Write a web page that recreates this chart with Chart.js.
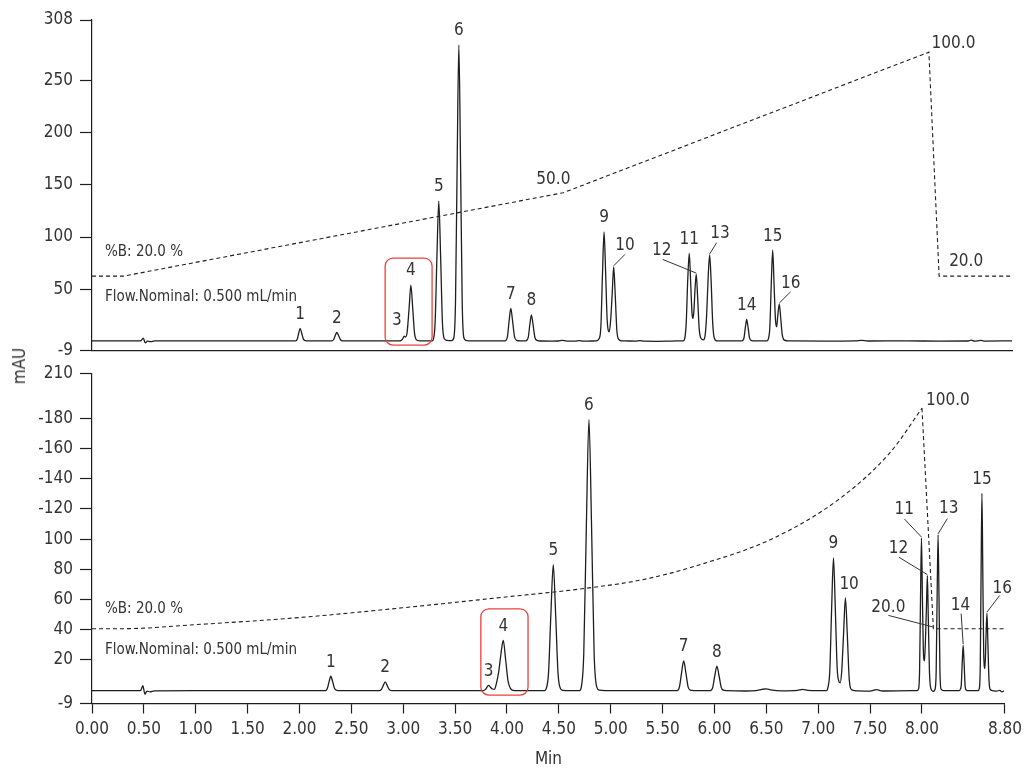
<!DOCTYPE html>
<html>
<head>
<meta charset="utf-8">
<script src="https://cdn.jsdelivr.net/npm/chart.js@4.4.1/dist/chart.umd.min.js"></script>
<style>
  body { margin: 0; background: #fff; }
  #wrap { position: relative; width: 1028px; height: 768px; overflow: hidden; }
  #wrap canvas { position: absolute; left: 0; }
  #mau {
    position: absolute; left: 19px; top: 366px;
    transform: translate(-50%, -50%) rotate(-90deg);
    font: 17px 'Liberation Sans Narrow', 'DejaVu Sans Condensed', 'Liberation Sans', sans-serif;
    color: #333; white-space: nowrap;
  }
</style>
</head>
<body>
<div id="wrap">
  <canvas id="top" width="1028" height="368" style="top:0"></canvas>
  <canvas id="bottom" width="1028" height="412" style="top:356px"></canvas>
  <div id="mau">mAU</div>
</div>
<script>
// ---- data ----
const peakNumbers = ['1','2','3','4','5','6','7','8','9','10','11','12','13','14','15','16'];

const topPeakTimes   = [1.991, 2.342, 2.986, 3.050, 3.317, 3.509, 4.006, 4.203, 4.898, 4.990, 5.713, 5.780, 5.908, 6.262, 6.511, 6.574];
const topPeakHeights = [12.5, 8.6, 5, 54, 134.5, 284, 31.6, 25.5, 105, 71.5, 84.4, 64.5, 82.8, 21, 87.5, 35.8];
const botPeakTimes   = [2.302, 2.826, 3.824, 3.964, 4.446, 4.790, 5.703, 6.023, 7.147, 7.262, 7.995, 8.052, 8.155, 8.397, 8.578, 8.626];
const botPeakHeights = [9.1, 5.4, 3, 32.9, 83, 179.2, 19.2, 15.7, 87.5, 61, 100.7, 75.8, 102.8, 29.6, 130.4, 50.9];

// trace points [min, mAU]
const topTrace = [
  [0,0.5],[0.44,0.5],[0.47,0.8],[0.49,3.2],[0.51,-1.5],[0.53,0.2],[0.56,-0.3],[0.6,0.5],[1.2,0.5],
  [1.949,0.6],[1.963,2.1],[1.977,7.8],[1.991,12.5],[2.006,7.8],[2.022,2.2],[2.04,0.7],[2.07,0.5],
  [2.294,0.5],[2.31,1.6],[2.326,5.5],[2.342,8.6],[2.359,5.4],[2.377,1.6],[2.397,0.6],[2.43,0.5],
  [2.95,0.5],[2.972,2.5],[2.986,5],[2.998,4.2],[3.014,8.5],[3.034,33],[3.05,54],[3.067,33],[3.085,8],[3.104,1.5],[3.13,0.6],
  [3.255,0.6],[3.265,2],[3.282,18],[3.2995,82],[3.317,134.5],[3.3345,82],[3.352,18],[3.37,2.5],[3.395,1],[3.44,0.8],
  [3.461,3.5],[3.477,38],[3.493,172],[3.509,284],[3.525,172],[3.541,38],[3.557,3.5],[3.578,1],[3.62,0.5],
  [3.95,0.5],[3.974,4.8],[3.99,19.8],[4.006,31.6],[4.023,19.5],[4.041,4.8],[4.062,1],[4.1,0.5],
  [4.15,0.5],[4.173,4],[4.188,16],[4.203,25.5],[4.219,16],[4.236,4],[4.256,1],[4.29,0.4],
  [4.4,0.3],[4.46,0.4],[4.5,1],[4.54,0.3],[4.62,0.3],[4.66,0.8],[4.7,0.3],[4.78,0.4],
  [4.82,0.5],[4.853,3],[4.868,15],[4.883,65],[4.898,105],[4.913,66],[4.928,20],[4.948,9.2],[4.962,22],[4.976,46],
  [4.99,71.5],[5.005,44],[5.02,11],[5.038,2],[5.065,0.6],[5.1,0.5],
  [5.2,0.3],[5.24,0.8],[5.28,0.2],[5.4,0.1],[5.5,0.2],[5.6,0.5],
  [5.655,0.5],[5.67,3],[5.684,18],[5.698,58],[5.713,84.4],[5.727,55],[5.74,26],[5.748,22],[5.758,30],[5.768,50],
  [5.78,64.5],[5.793,42],[5.808,12],[5.825,3],[5.848,1.5],[5.865,6],[5.879,25],[5.894,62],[5.908,82.8],[5.922,58],
  [5.937,18],[5.953,3],[5.975,0.6],[6.0,0.5],
  [6.215,0.5],[6.236,3.2],[6.249,13],[6.262,21],[6.276,13],[6.29,3.2],[6.31,0.8],[6.34,0.5],
  [6.455,0.5],[6.471,3],[6.484,14],[6.497,54],[6.511,87.5],[6.524,55],[6.538,20],[6.549,14],[6.56,25],[6.574,35.8],
  [6.588,22],[6.603,6],[6.622,1.2],[6.65,0.6],[6.7,0.5],
  [7.0,0.3],[7.3,0.5],[7.36,0.9],[7.42,0.4],[7.8,0.5],[8.1,0.3],[8.38,0.4],[8.41,1.3],[8.44,0.2],[8.5,1.0],[8.53,0.3],[8.8,0.5]
];

const botTrace = [
  [0,-0.5],[0.44,-0.5],[0.47,-0.3],[0.49,2.8],[0.51,-2.8],[0.53,-0.8],[0.56,-1.3],[0.6,-0.6],[1.0,-0.5],
  [2.25,-0.5],[2.268,0.9],[2.285,5.3],[2.302,9.1],[2.32,5.3],[2.338,1],[2.36,-0.3],[2.4,-0.5],
  [2.77,-0.5],[2.79,0.4],[2.808,3],[2.826,5.4],[2.845,3],[2.864,0.4],[2.885,-0.4],[2.93,-0.5],
  [3.77,-0.5],[3.795,0.5],[3.81,2.2],[3.824,3],[3.84,1.8],[3.86,0.6],[3.88,0.4],[3.897,4],[3.92,12],[3.942,24],
  [3.964,32.9],[3.987,20],[4.01,6],[4.033,1],[4.06,-0.3],[4.1,-0.5],
  [4.36,-0.5],[4.377,0.7],[4.4,11],[4.423,50],[4.446,83],[4.469,50],[4.492,11],[4.515,1],[4.54,-0.3],[4.6,-0.5],
  [4.70,-0.5],[4.715,1.5],[4.74,24],[4.765,109],[4.79,179.2],[4.815,109],[4.84,24],[4.865,2],[4.89,-0.2],[4.95,-0.5],
  [5.64,-0.5],[5.663,2.2],[5.683,11.5],[5.703,19.2],[5.724,11.5],[5.745,2.2],[5.766,-0.2],[5.8,-0.5],
  [5.96,-0.5],[5.983,1.7],[6.003,9.4],[6.023,15.7],[6.044,9.4],[6.065,1.7],[6.086,-0.2],[6.12,-0.5],
  [6.3,-0.7],[6.4,-0.4],[6.46,0.4],[6.5,0.7],[6.54,0.1],[6.65,-0.6],[6.8,-0.3],[6.85,0.4],[6.9,-0.3],[7.0,-0.5],
  [7.08,-0.5],[7.093,1.5],[7.111,12],[7.129,53.5],[7.147,87.5],[7.165,53],[7.183,14],[7.2,5.5],[7.211,4.7],[7.226,12],
  [7.244,37],[7.262,61],[7.28,37],[7.298,8],[7.316,0.5],[7.35,-0.5],
  [7.5,-0.8],[7.56,0.2],[7.62,-0.7],[7.9,-0.5],
  [7.955,-0.5],[7.968,0.8],[7.977,13],[7.986,61],[7.995,100.7],[8.004,62],[8.013,27],[8.024,19.2],[8.033,32],[8.043,55],
  [8.052,75.8],[8.061,47],[8.072,12],[8.085,1],[8.11,-1],[8.128,1],[8.137,13],[8.146,62],[8.155,102.8],[8.164,62],
  [8.173,13],[8.184,0.5],[8.21,-0.5],
  [8.36,-0.5],[8.37,0.5],[8.379,3.5],[8.388,18],[8.397,29.6],[8.406,18],[8.415,3.5],[8.425,0],[8.45,-0.5],
  [8.54,-0.5],[8.553,1],[8.562,17],[8.57,80],[8.578,130.4],[8.586,80],[8.595,24],[8.607,14.2],[8.617,35],[8.626,50.9],
  [8.635,32],[8.645,8],[8.656,0.5],[8.68,-0.5],
  [8.72,-0.8],[8.75,-0.3],[8.77,-1.3],[8.79,-0.6]
];

// %B gradient, drawn on the mAU scale
const topGradient = [[0,62.6],[0.302,62.6],[4.509,142.5],[8.005,277.2],[8.103,62.6],[8.8,62.6]];
const botGradientCurve = [[0,40.6],[0.30,40.6],[1.0,43.3],[2.0,48],[3.0,54.5],[3.9,61],[4.76,67.4],[5.3,73],[5.81,82],[6.58,101],[7.22,127.5],[7.70,158],[8.0,186.8]];
const botGradientDrop = [[8.0,186.8],[8.11,40.6],[8.8,40.6]];

const xTicks  = [0,0.5,1,1.5,2,2.5,3,3.5,4,4.5,5,5.5,6,6.5,7,7.5,8,8.8];
const xLabels = ['0.00','0.50','1.00','1.50','2.00','2.50','3.00','3.50','4.00','4.50','5.00','5.50','6.00','6.50','7.00','7.50','8.00','8.80'];
const topYTicks  = [-9,50,100,150,200,250,308];
const topYLabels = ['-9','50','100','150','200','250','308'];
const botYTicks  = [-9,20,40,60,80,100,120,140,160,180,210];
const botYLabels = ['-9','20','40','60','80','100','-120','-140','-160','-180','210'];

// ---- drawing ----
const INK = '#333';
const LINE = '#1e1e1e';
const FAMILY = "'Liberation Sans Narrow', 'DejaVu Sans Condensed', 'Liberation Sans', sans-serif";
const FONT = '17px ' + FAMILY;
const INFO_FONT = '15px ' + FAMILY;
Chart.defaults.font.family = FAMILY;
Chart.defaults.font.size = 17;
Chart.defaults.color = INK;

const pts = arr => arr.map(p => ({ x: p[0], y: p[1] }));

function xAxis(show) {
  return {
    type: 'linear', min: 0, max: 8.8,
    afterBuildTicks: s => { s.ticks = xTicks.map(v => ({ value: v })); },
    afterFit: s => { s.height = show ? 64.5 : 0; },
    grid: { drawOnChartArea: false, drawTicks: show, tickLength: 10, tickColor: LINE, tickWidth: 1.2 },
    border: { color: LINE, width: 1.2 },
    ticks: { display: show, autoSkip: false, maxRotation: 0, padding: 6, callback: (v, i) => xLabels[i] },
    title: { display: show, text: 'Min', padding: 0, font: { size: 17, lineHeight: 1 } }
  };
}

// note: chart.js adds half a label + ticks.padding above/below the y axis,
// so the canvases overlap a little to keep the plot areas where they belong
function yAxis(min, max, ticks, labels) {
  return {
    type: 'linear', min: min, max: max,
    afterBuildTicks: s => { s.ticks = ticks.map(v => ({ value: v })); },
    afterFit: s => { s.width = 92; },
    grid: { drawOnChartArea: false, tickLength: 12, tickColor: LINE, tickWidth: 1.2 },
    border: { color: LINE, width: 1.2 },
    ticks: { padding: 7, autoSkip: false, callback: (v, i) => labels[i] }
  };
}

function notes(cfg) {
  return {
    id: 'notes',
    afterDatasetsDraw(chart) {
      const { ctx, chartArea } = chart;
      const x = chart.scales.x, y = chart.scales.y;
      ctx.save();
      ctx.font = FONT;
      ctx.fillStyle = INK;
      ctx.strokeStyle = INK;
      ctx.lineWidth = 1;
      ctx.textAlign = 'center';
      ctx.textBaseline = 'middle';

      // peak numbers
      cfg.times.forEach((t, i) => {
        const px = x.getPixelForValue(t), py = y.getPixelForValue(cfg.heights[i]);
        const o = cfg.offsets[i] || [0, -14];
        if (o.length > 2) {
          ctx.beginPath();
          ctx.moveTo(px, py - 1);
          ctx.lineTo(px + o[2], py + o[3]);
          ctx.stroke();
        }
        ctx.fillText(peakNumbers[i], px + o[0], py + o[1]);
      });

      // gradient values
      cfg.marks.forEach(m => {
        const px = x.getPixelForValue(m.t), py = y.getPixelForValue(m.v);
        if (m.lead) {
          ctx.beginPath();
          ctx.moveTo(px + m.lead[0], py + m.lead[1]);
          ctx.lineTo(px + m.lead[2], py + m.lead[3]);
          ctx.stroke();
        }
        ctx.textAlign = m.align || 'center';
        ctx.fillText(m.text, px + m.dx, py + m.dy);
      });

      // method info
      ctx.font = INFO_FONT;
      ctx.textAlign = 'left';
      const gy = y.getPixelForValue(cfg.info.v);
      ctx.fillText('%B: 20.0 %', chartArea.left + 13, gy + cfg.info.dyB);
      ctx.fillText('Flow.Nominal: 0.500 mL/min', chartArea.left + 13, gy + cfg.info.dyF);

      // highlight box round peaks 3 and 4
      const b = cfg.box;
      const bx0 = x.getPixelForValue(b[0]), bx1 = x.getPixelForValue(b[1]);
      const by0 = y.getPixelForValue(b[2]), by1 = y.getPixelForValue(b[3]);
      ctx.strokeStyle = '#e8413c';
      ctx.lineWidth = 1.3;
      ctx.beginPath();
      ctx.roundRect(bx0, by0, bx1 - bx0, by1 - by0, 8);
      ctx.stroke();
      ctx.restore();
    }
  };
}

const traceStyle = { borderColor: LINE, borderWidth: 1.3, pointRadius: 0, cubicInterpolationMode: 'monotone', fill: false };
const dashStyle = { borderColor: LINE, borderWidth: 1.1, borderDash: [4, 3], pointRadius: 0, fill: false };

const baseOptions = (padding, scales) => ({
  responsive: false,
  animation: false,
  events: [],
  layout: { padding: padding },
  plugins: { legend: { display: false }, tooltip: { enabled: false } },
  scales: scales
});

new Chart(document.getElementById('top'), {
  type: 'line',
  data: {
    datasets: [
      Object.assign({ data: pts(topGradient), tension: 0 }, dashStyle),
      Object.assign({ data: pts(topTrace) }, traceStyle)
    ]
  },
  options: baseOptions({ top: 20, right: 16, bottom: 0, left: 0 }, {
    x: xAxis(false),
    y: yAxis(-9, 308, topYTicks, topYLabels)
  }),
  plugins: [notes({
    times: topPeakTimes,
    heights: topPeakHeights,
    offsets: { 2: [-7.3, -15.3], 9: [11.3, -21.7, 11.3, -12.4], 11: [-34.6, -23.3, -33.6, -14.7], 12: [10.3, -21.7, 7, -12.3], 15: [11.4, -20.7, 11.4, -12.3] },
    marks: [
      { text: '50.0', t: 4.509, v: 142.5, dx: -10, dy: -12.7 },
      { text: '100.0', t: 8.005, v: 277.2, dx: 2.7, dy: -8.3, align: 'left' },
      { text: '20.0', t: 8.103, v: 62.6, dx: 10, dy: -14.3, align: 'left' }
    ],
    info: { v: 62.6, dyB: -24.3, dyF: 20.7 },
    box: [2.804, 3.253, 79.9, -3.5]
  })]
});

new Chart(document.getElementById('bottom'), {
  type: 'line',
  data: {
    datasets: [
      Object.assign({ data: pts(botGradientCurve), cubicInterpolationMode: 'monotone' }, dashStyle),
      Object.assign({ data: pts(botGradientDrop), tension: 0 }, dashStyle),
      Object.assign({ data: pts(botTrace) }, traceStyle)
    ]
  },
  options: baseOptions({ top: 0, right: 16, bottom: 0, left: 0 }, {
    x: xAxis(true),
    y: yAxis(-9, 210, botYTicks, botYLabels)
  }),
  plugins: [notes({
    times: botPeakTimes,
    heights: botPeakHeights,
    offsets: { 9: [3.7, -13], 10: [-17.3, -28.3, -17, -19], 11: [-29, -27.3, -28.3, -18.3], 12: [10.6, -26.3, 9.3, -16.3], 13: [-2.7, -39.3, -2, -31.7], 15: [15.3, -25, 12.7, -17.7] },
    marks: [
      { text: '100.0', t: 8.0, v: 186.8, dx: 4, dy: -7.4, align: 'left' },
      { text: '20.0', t: 8.11, v: 40.6, dx: -45, dy: -21, lead: [0, -1.6, -45, -13.3] }
    ],
    info: { v: 40.6, dyB: -20, dyF: 21 },
    box: [3.748, 4.203, 53.8, -3.4]
  })]
});
</script>
</body>
</html>
